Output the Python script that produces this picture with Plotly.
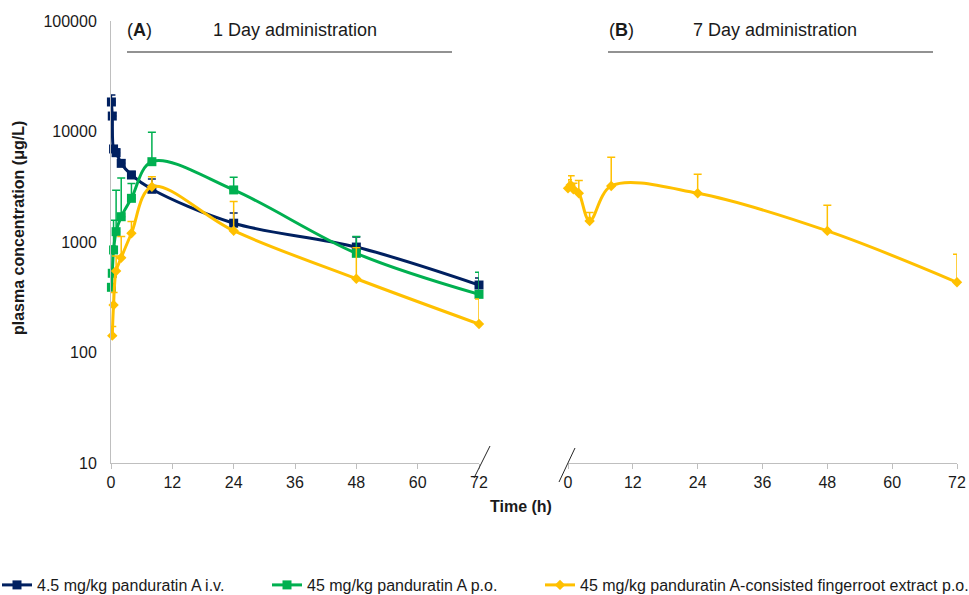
import plotly.graph_objects as go

# ---------------- data ----------------
# Panel A: 1 day administration
t_iv = [0.083, 0.25, 0.5, 1, 2, 4, 8, 24, 48, 72]
c_iv = [18500, 13800, 6950, 6430, 5150, 4040, 3000, 1480, 900, 408]
e_iv = [2900, 900, 400, 500, 400, 300, 720, 350, 210, 64]

t_po = [0.083, 0.25, 0.5, 1, 2, 4, 8, 24, 48, 72]
c_po = [389, 521, 847, 1240, 1694, 2485, 5330, 2960, 790, 336]
e_po = [120, 400, 730, 1700, 2100, 900, 4500, 890, 330, 196]

t_fr = [0.25, 0.5, 1, 2, 4, 8, 24, 48, 72]
c_fr = [142, 269, 546, 721, 1200, 3160, 1265, 465, 181]
e_fr = [30, 80, 200, 400, 330, 740, 1055, 420, 124]

# Panel B: 7 day administration
t_fr7 = [0, 0.5, 1, 2, 4, 8, 24, 48, 72]
c_fr7 = [3060, 3280, 3000, 2760, 1550, 3210, 2760, 1260, 432]
e_fr7 = [600, 700, 400, 850, 300, 2650, 1340, 890, 342]

x_ticks = [0, 12, 24, 36, 48, 60, 72]
y_ticks = [10, 100, 1000, 10000, 100000]
y_ticktext = ["10", "100", "1000", "10000", "100000"]

names = ["4.5 mg/kg panduratin A i.v.",
         "45 mg/kg panduratin A p.o.",
         "45 mg/kg panduratin A-consisted fingerroot extract p.o."]

BLUE = "#002060"
GREEN = "#00B050"
GOLD = "#FFC000"
FONT = "Liberation Sans, Arial, sans-serif"
TXT = "#1a1a1a"

fig = go.Figure()


def add(t, c, e, name, color, symbol, size, xaxis, showlegend, legend):
    fig.add_trace(go.Scatter(
        x=t, y=c, name=name, mode="lines+markers",
        line=dict(color=color, width=3, shape="spline", smoothing=1.0),
        marker=dict(color=color, symbol=symbol, size=size),
        error_y=dict(type="data", array=e, arrayminus=[0] * len(e), symmetric=False,
                     color=color, thickness=1.5, width=4),
        xaxis=xaxis, yaxis="y", showlegend=showlegend, legend=legend, cliponaxis=False,
    ))


add(t_iv, c_iv, e_iv, names[0], BLUE, "square", 9, "x", True, "legend")
add(t_po, c_po, e_po, names[1], GREEN, "square", 9, "x", True, "legend2")
add(t_fr, c_fr, e_fr, names[2], GOLD, "diamond", 8, "x", True, "legend3")
add(t_fr7, c_fr7, e_fr7, names[2], GOLD, "diamond", 8, "x2", False, "legend3")

W, H = 969, 595
L, R, T, B = 111, 12, 21, 132
pw, ph = W - L - R, H - T - B


def px(x):
    return (x - L) / pw


def py(y):
    return (H - B - y) / ph


axis_common = dict(
    range=[0, 72], tickvals=x_ticks, showline=True, linecolor="#bfbfbf", linewidth=1,
    ticks="outside", ticklen=5, tickcolor="#bfbfbf", showgrid=False, zeroline=False,
    tickfont=dict(family=FONT, size=16, color=TXT),
)


def leg(xpix):
    return dict(orientation="h", x=px(xpix), y=py(585), xanchor="left", yanchor="middle",
                font=dict(family=FONT, size=16, color=TXT), bgcolor="rgba(0,0,0,0)",
                itemwidth=30)


fig.update_layout(
    width=W, height=H,
    margin=dict(l=L, r=R, t=T, b=B, autoexpand=False),
    plot_bgcolor="white", paper_bgcolor="white",
    font=dict(family=FONT, color=TXT),
    xaxis=dict(domain=[0, px(479)], anchor="y", **axis_common),
    xaxis2=dict(domain=[px(568), 1.0], anchor="y", **axis_common),
    yaxis=dict(type="log", range=[1, 5], tickvals=y_ticks, ticktext=y_ticktext,
               showline=True, linecolor="#bfbfbf", linewidth=1, showgrid=False,
               zeroline=False, ticks="", ticklabelstandoff=10,
               tickfont=dict(family=FONT, size=16, color=TXT), anchor="x"),
    legend=leg(-3),
    legend2=leg(267),
    legend3=leg(540),
)

ann = []


def text(t, x, y, size, angle=0):
    ann.append(dict(text=t, x=px(x), y=py(y), xanchor="center", yanchor="middle",
                    textangle=angle, showarrow=False, xref="paper", yref="paper",
                    font=dict(family=FONT, size=size, color=TXT)))


text("<b>plasma concentration (μg/L)</b>", 18, 228, 16, -90)
text("<b>Time (h)</b>", 521, 506, 16)
text("(<b>A</b>)", 139, 30, 18)
text("1 Day administration", 295, 30, 18)
text("(<b>B</b>)", 621, 30, 18)
text("7 Day administration", 775, 30, 18)
fig.update_layout(annotations=ann)

shapes = []
for x0, x1 in [(127, 452), (608, 933)]:
    shapes.append(dict(type="line", xref="paper", yref="paper", x0=px(x0), x1=px(x1),
                       y0=py(52), y1=py(52), line=dict(color="#262626", width=1.2)))
for (x0, y0, x1, y1) in [(474, 478, 490, 446), (559, 482, 575, 448)]:
    shapes.append(dict(type="line", xref="paper", yref="paper", x0=px(x0), x1=px(x1),
                       y0=py(y0), y1=py(y1), line=dict(color="#262626", width=1)))
fig.update_layout(shapes=shapes)

fig.write_html("out.html", config={"displayModeBar": False},
               post_script="document.body.style.margin='0px';")
